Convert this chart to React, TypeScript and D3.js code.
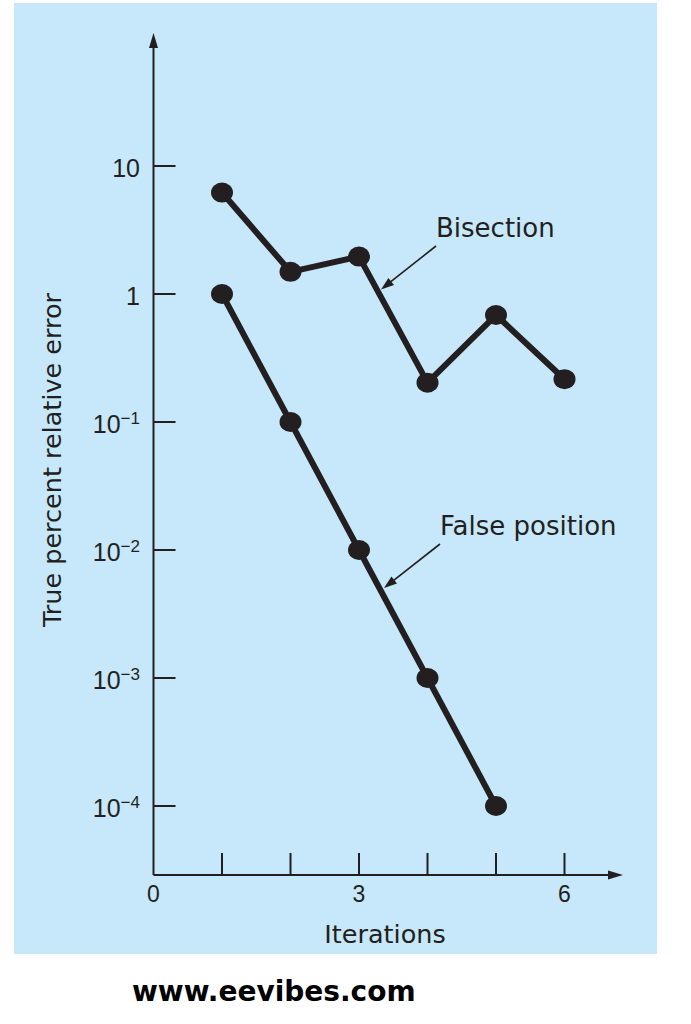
import React from "react";
import * as d3 from "d3";

const bisectionIterations = [1, 2, 3, 4, 5, 6];
const bisectionError = [6.2, 1.49, 1.96, 0.203, 0.685, 0.216];
const falsePositionIterations = [1, 2, 3, 4, 5];
const falsePositionError = [1, 0.1, 0.01, 0.001, 0.0001];
const yTickValues = [10, 1, 0.1, 0.01, 0.001, 0.0001];
const xTickValues = [1, 2, 3, 4, 5, 6];
const xLabelValues = [0, 3, 6];

const W = 691;
const H = 1024;
const INK = "#231f20";
const BG = "#c6e8fa";

export default function App() {
  const x = d3.scaleLinear().domain([0, 6]).range([153.5, 564.5]);
  const y = d3.scaleLog().domain([1e-4, 10]).range([806, 166]);
  const axisY = 875;
  const axisX = x(0);
  const yTop = 33;
  const xRight = 623;

  const line = d3
    .line<[number, number]>()
    .x((d) => x(d[0]))
    .y((d) => y(d[1]));

  const bis: [number, number][] = bisectionIterations.map((it, i) => [it, bisectionError[i]]);
  const fp: [number, number][] = falsePositionIterations.map((it, i) => [it, falsePositionError[i]]);

  const arrowHead = (x1: number, y1: number, x2: number, y2: number, len: number, half: number) => {
    const a = Math.atan2(y2 - y1, x2 - x1);
    const bx = x2 - len * Math.cos(a);
    const by = y2 - len * Math.sin(a);
    const px = -Math.sin(a) * half;
    const py = Math.cos(a) * half;
    return `M${x2},${y2}L${bx + px},${by + py}L${bx - px},${by - py}Z`;
  };

  const yLabel = (v: number) => {
    if (v === 10) return <tspan>10</tspan>;
    if (v === 1) return <tspan>1</tspan>;
    const e = Math.round(Math.log10(v));
    return (
      <>
        <tspan>10</tspan>
        <tspan dy={-9} fontSize={17}>{"\u2212" + Math.abs(e)}</tspan>
      </>
    );
  };

  const annotations = [
    { text: "Bisection", tx: 436, ty: 237, x1: 436, y1: 246, x2: 381, y2: 289.5 },
    { text: "False position", tx: 440, ty: 535, x1: 440, y1: 544, x2: 384, y2: 588 },
  ];

  return (
    <svg
      width={W}
      height={H}
      style={{ position: "absolute", left: 0, top: 0, background: "#ffffff" }}
    >
      <rect x={0} y={0} width={W} height={H} fill="#ffffff" />
      <rect x={14} y={3} width={643} height={951} fill={BG} />

      {/* axes */}
      <line x1={axisX} y1={axisY} x2={axisX} y2={yTop + 12} stroke={INK} strokeWidth={2} />
      <path d={arrowHead(axisX, axisY, axisX, yTop, 15, 4.5)} fill={INK} />
      <line x1={axisX} y1={axisY} x2={xRight - 12} y2={axisY} stroke={INK} strokeWidth={2} />
      <path d={arrowHead(axisX, axisY, xRight, axisY, 15, 4.5)} fill={INK} />

      {/* y ticks */}
      {yTickValues.map((v) => (
        <g key={"yt" + v}>
          <line x1={axisX} x2={axisX + 22} y1={y(v)} y2={y(v)} stroke={INK} strokeWidth={2} />
          <text
            x={140}
            y={y(v) + 10.5}
            textAnchor="end"
            fontFamily="'Liberation Sans', Arial, sans-serif"
            fontSize={25}
            fill={INK}
          >
            {yLabel(v)}
          </text>
        </g>
      ))}

      {/* x ticks */}
      {xTickValues.map((v) => (
        <line key={"xt" + v} x1={x(v)} x2={x(v)} y1={axisY} y2={axisY - 22} stroke={INK} strokeWidth={2} />
      ))}
      {xLabelValues.map((v) => (
        <text
          key={"xl" + v}
          x={x(v)}
          y={902}
          textAnchor="middle"
          fontFamily="'Liberation Sans', Arial, sans-serif"
          fontSize={23}
          fill={INK}
        >
          {v}
        </text>
      ))}

      <text
        x={385}
        y={943}
        textAnchor="middle"
        fontFamily="'DejaVu Sans', sans-serif"
        fontSize={25.5}
        fill={INK}
      >
        Iterations
      </text>
      <text
        transform={`translate(61,460) rotate(-90)`}
        textAnchor="middle"
        fontFamily="'DejaVu Sans', sans-serif"
        fontSize={25.5}
        fill={INK}
      >
        True percent relative error
      </text>

      {/* series */}
      <path d={line(bis) || ""} fill="none" stroke={INK} strokeWidth={6} strokeLinejoin="round" />
      <path d={line(fp) || ""} fill="none" stroke={INK} strokeWidth={6} strokeLinejoin="round" />
      {bis.map((d, i) => (
        <ellipse key={"b" + i} cx={x(d[0])} cy={y(d[1])} rx={11} ry={10} fill={INK} />
      ))}
      {fp.map((d, i) => (
        <ellipse key={"f" + i} cx={x(d[0])} cy={y(d[1])} rx={11} ry={10} fill={INK} />
      ))}

      {/* annotations */}
      {annotations.map((a) => (
        <g key={a.text}>
          <text x={a.tx} y={a.ty} fontFamily="'DejaVu Sans', sans-serif" fontSize={26} fill={INK}>
            {a.text}
          </text>
          <line
            x1={a.x1}
            y1={a.y1}
            x2={a.x2 + (a.x1 - a.x2) * 0.15}
            y2={a.y2 + (a.y1 - a.y2) * 0.15}
            stroke={INK}
            strokeWidth={1.6}
          />
          <path d={arrowHead(a.x1, a.y1, a.x2, a.y2, 13, 4.5)} fill={INK} />
        </g>
      ))}

      {/* watermark */}
      <text
        x={132}
        y={1001}
        fontFamily="'DejaVu Sans', Verdana, sans-serif"
        fontWeight="bold"
        fontSize={28}
        fill="#000000"
      >
        www.eevibes.com
      </text>
    </svg>
  );
}
